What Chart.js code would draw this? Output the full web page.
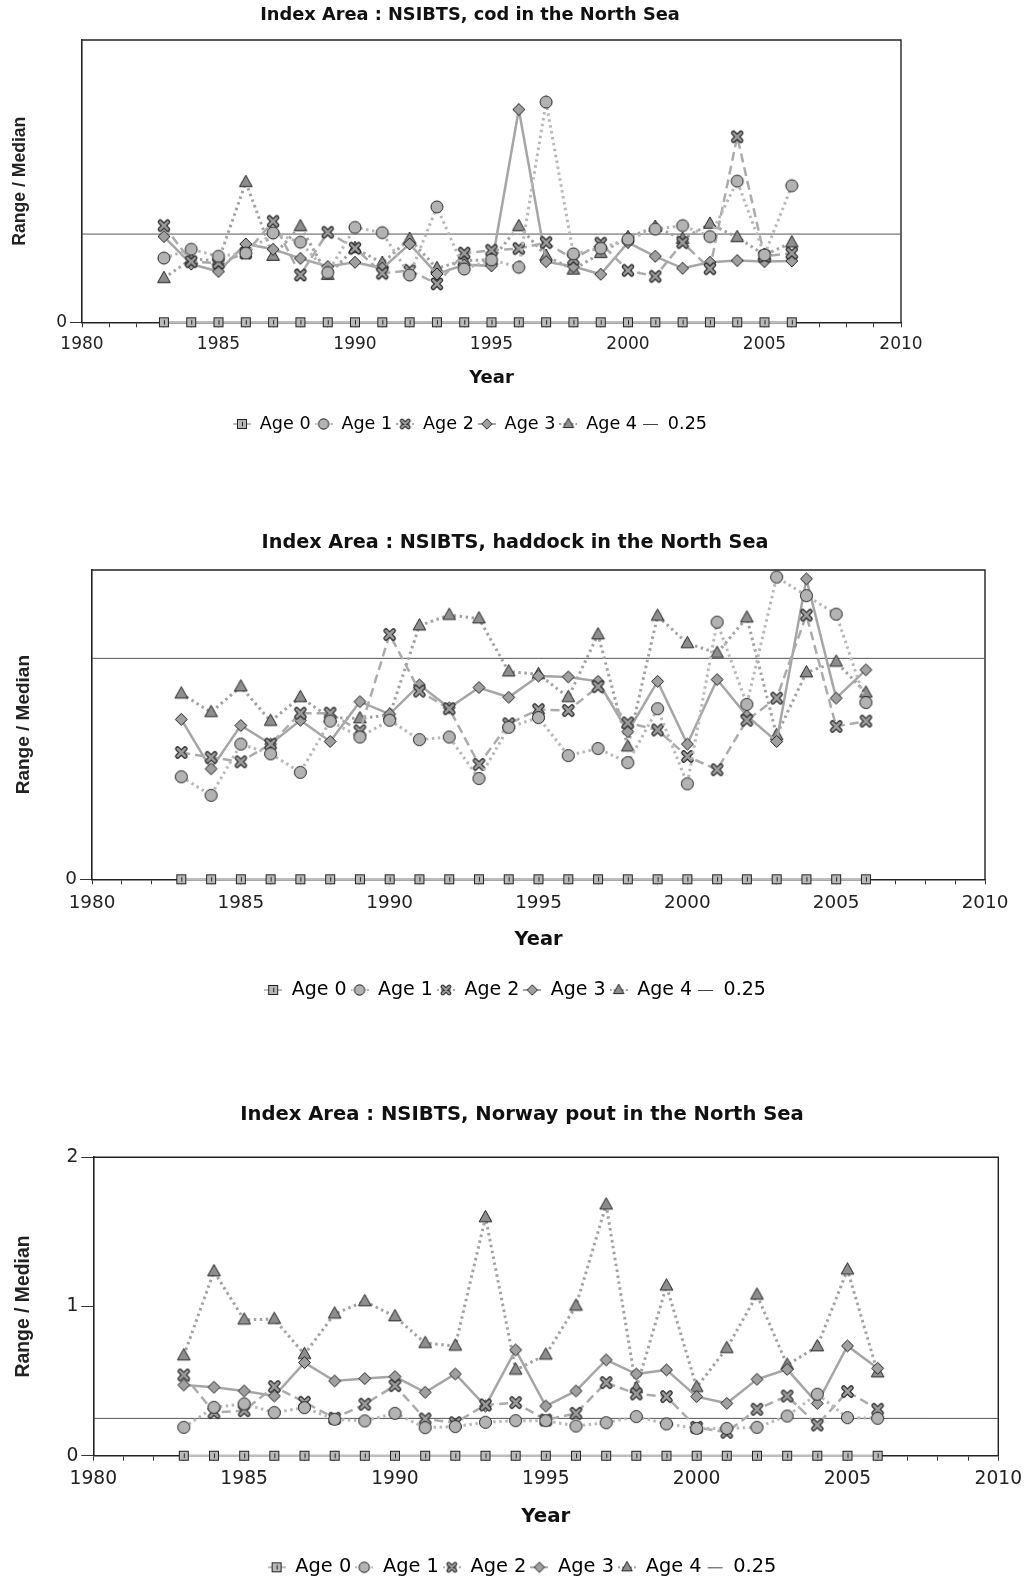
<!DOCTYPE html>
<html><head><meta charset="utf-8">
<script src="https://cdn.jsdelivr.net/npm/chart.js@4.4.1/dist/chart.umd.min.js"></script>
<style>
html,body{margin:0;padding:0;background:#fff;overflow:hidden;width:1031px;height:1581px;position:relative}
canvas{position:absolute;left:0}
</style></head><body>
<canvas id="c1"></canvas><canvas id="c2"></canvas><canvas id="c3"></canvas>
<script>
// ---------- data ----------
const years = [1983,1984,1985,1986,1987,1988,1989,1990,1991,1992,1993,1994,1995,1996,1997,1998,1999,2000,2001,2002,2003,2004,2005,2006];
const seriesNames = ['Age 0','Age 1','Age 2','Age 3','Age 4'];
const thresholdLabel = '0.25';
const threshold = 0.25;
const xMin = 1980, xMax = 2010;
const xTickLabels = ['1980','1985','1990','1995','2000','2005','2010'];

const codTitle = 'Index Area : NSIBTS, cod in the North Sea';
const codAge0 = [0,0,0,0,0,0,0,0,0,0,0,0,0,0,0,0,0,0,0,0,0,0,0,0];
const codAge1 = [0.182,0.207,0.187,0.196,0.253,0.227,0.141,0.269,0.254,0.134,0.327,0.151,0.177,0.156,0.624,0.194,0.210,0.235,0.264,0.274,0.243,0.400,0.191,0.387];
const codAge2 = [0.274,0.172,0.168,0.196,0.286,0.134,0.255,0.210,0.139,0.147,0.109,0.196,0.204,0.209,0.226,0.179,0.224,0.147,0.130,0.226,0.152,0.526,0.187,0.196];
const codAge3 = [0.243,0.165,0.144,0.222,0.207,0.181,0.158,0.170,0.153,0.222,0.137,0.163,0.160,0.603,0.172,0.158,0.136,0.226,0.187,0.153,0.170,0.175,0.172,0.174];
const codAge4 = [0.125,0.179,0.175,0.397,0.188,0.272,0.134,0.210,0.168,0.236,0.153,0.175,0.177,0.272,0.188,0.149,0.196,0.241,0.270,0.236,0.279,0.241,0.191,0.226];
const codYMax = 0.8;
const codYTicks = ['0'];

const hadTitle = 'Index Area : NSIBTS, haddock in the North Sea';
const hadAge0 = [0,0,0,0,0,0,0,0,0,0,0,0,0,0,0,0,0,0,0,0,0,0,0,0];
const hadAge1 = [0.116,0.095,0.153,0.142,0.121,0.179,0.161,0.180,0.158,0.161,0.114,0.172,0.183,0.140,0.148,0.132,0.193,0.108,0.291,0.198,0.342,0.321,0.300,0.200];
const hadAge2 = [0.1435,0.138,0.133,0.153,0.188,0.188,0.168,0.277,0.213,0.193,0.130,0.176,0.192,0.191,0.218,0.177,0.169,0.139,0.124,0.180,0.205,0.299,0.173,0.179];
const hadAge3 = [0.181,0.125,0.174,0.153,0.180,0.156,0.201,0.187,0.220,0.194,0.217,0.206,0.230,0.229,0.224,0.167,0.224,0.153,0.226,0.185,0.156,0.340,0.205,0.237];
const hadAge4 = [0.210,0.189,0.218,0.179,0.206,0.183,0.182,0.186,0.287,0.299,0.295,0.235,0.232,0.206,0.277,0.150,0.298,0.267,0.256,0.296,0.163,0.234,0.246,0.211];
const hadYMax = 0.35;
const hadYTicks = ['0'];

const npTitle = 'Index Area : NSIBTS, Norway pout in the North Sea';
const npAge0 = [0,0,0,0,0,0,0,0,0,0,0,0,0,0,0,0,0,0,0,0,0,0,0,0];
const npAge1 = [0.190,0.324,0.347,0.289,0.322,0.244,0.233,0.284,0.188,0.195,0.224,0.235,0.235,0.199,0.221,0.262,0.213,0.183,0.183,0.190,0.266,0.412,0.255,0.251];
const npAge2 = [0.541,0.289,0.302,0.463,0.358,0.251,0.345,0.470,0.246,0.221,0.340,0.356,0.239,0.284,0.490,0.414,0.396,0.190,0.157,0.311,0.400,0.206,0.430,0.311];
const npAge3 = [0.474,0.459,0.434,0.400,0.624,0.501,0.517,0.530,0.425,0.548,0.333,0.709,0.333,0.434,0.642,0.548,0.575,0.396,0.351,0.512,0.579,0.351,0.736,0.586];
const npAge4 = [0.671,1.235,0.911,0.915,0.680,0.951,1.034,0.933,0.754,0.736,1.597,0.575,0.676,1.004,1.682,0.452,1.139,0.459,0.720,1.078,0.608,0.732,1.246,0.557];
const npYMax = 2;
const npYTicks = ['0','1','2'];

const yAxisTitle = 'Range / Median';
const xAxisTitle = 'Year';

// ---------- styling ----------
Chart.defaults.font.family = "'DejaVu Sans', Verdana, sans-serif";
Chart.defaults.color = '#222';

const seriesStyle = [
  {kind:'square',   fill:'#b9b9b9', line:'#bdbdbd', dash:[],        width:2.5},
  {kind:'circle',   fill:'#b3b3b3', line:'#b8b8b8', dash:[2.5,3.5], width:3},
  {kind:'x',        fill:'#9c9c9c', line:'#ababab', dash:[9,5],     width:2.5},
  {kind:'diamond',  fill:'#a0a0a0', line:'#a6a6a6', dash:[],        width:2.5},
  {kind:'triangle', fill:'#8e8e8e', line:'#a2a2a2', dash:[2.5,3.5], width:3}
];

function drawMarker(g, kind, cx, cy, r, fill) {
  g.save();
  g.fillStyle = fill; g.strokeStyle = '#222'; g.lineWidth = 1;
  if (kind === 'square') {
    const a = Math.round(r);
    g.fillRect(cx - a, cy - a, 2*a, 2*a);
    g.strokeRect(cx - a + 0.5, cy - a + 0.5, 2*a - 1, 2*a - 1);
    g.beginPath(); g.moveTo(Math.floor(cx) + 0.5, cy - a*0.45); g.lineTo(Math.floor(cx) + 0.5, cy + a*0.45); g.stroke();
  } else if (kind === 'circle') {
    g.beginPath(); g.arc(cx, cy, r, 0, Math.PI*2); g.fill(); g.stroke();
  } else if (kind === 'diamond') {
    g.beginPath(); g.moveTo(cx, cy - r); g.lineTo(cx + r, cy); g.lineTo(cx, cy + r); g.lineTo(cx - r, cy); g.closePath(); g.fill(); g.stroke();
  } else if (kind === 'triangle') {
    g.beginPath(); g.moveTo(cx, cy - r); g.lineTo(cx + r*0.9, cy + r*0.62); g.lineTo(cx - r*0.9, cy + r*0.62); g.closePath(); g.fill(); g.stroke();
  } else if (kind === 'x') {
    const d = r*0.62;
    g.lineCap = 'round';
    g.strokeStyle = '#2a2a2a'; g.lineWidth = r*0.85;
    g.beginPath(); g.moveTo(cx-d, cy-d); g.lineTo(cx+d, cy+d); g.moveTo(cx+d, cy-d); g.lineTo(cx-d, cy+d); g.stroke();
    g.strokeStyle = fill; g.lineWidth = r*0.42;
    g.beginPath(); g.moveTo(cx-d, cy-d); g.lineTo(cx+d, cy+d); g.moveTo(cx+d, cy-d); g.lineTo(cx-d, cy+d); g.stroke();
  }
  g.restore();
}
function markerImg(st, r) {
  const size = Math.ceil(2*r + 4);
  const c = document.createElement('canvas'); c.width = size; c.height = size;
  drawMarker(c.getContext('2d'), st.kind, size/2, size/2, r, st.fill);
  return c;
}
const ICON_W = 18;
const LEGEND_PAD = 4;
function legendIcon(st, r) {
  const c = document.createElement('canvas'); c.width = ICON_W; c.height = 16;
  const g = c.getContext('2d');
  if (st) {
    g.strokeStyle = st.line; g.lineWidth = 2; g.setLineDash(st.dash.length ? [2,2] : []);
    g.beginPath(); g.moveTo(0, 8); g.lineTo(ICON_W, 8); g.stroke(); g.setLineDash([]);
    drawMarker(g, st.kind, ICON_W/2, 8, r, st.fill);
  } else {
    g.strokeStyle = '#444'; g.lineWidth = 1;
    g.beginPath(); g.moveTo(2, 8.5); g.lineTo(ICON_W - 1, 8.5); g.stroke();
  }
  return c;
}

const framePlugin = {
  id: 'frame',
  beforeDatasetsDraw(chart) {
    const a = chart.chartArea, ctx = chart.ctx;
    ctx.save(); ctx.strokeStyle = '#222'; ctx.lineWidth = 1.4;
    ctx.beginPath(); ctx.moveTo(a.left, a.top); ctx.lineTo(a.right, a.top); ctx.lineTo(a.right, a.bottom); ctx.stroke();
    ctx.restore();
  }
};

function makeChart(id, L, title, series, yMax, yTicks) {
  const s = L.s;
  const fsT = 17.8*s, lhT = fsT*1.2;
  const padTitleTop = L.titleY - L.top - lhT/2;
  const padTitleBottom = L.plotTop - L.top - lhT - padTitleTop;
  const fsL = 17.6*s;
  const xBottom = L.legendY - LEGEND_PAD - fsL/2;
  const xH = xBottom - L.plotBottom;
  const fsTick = 17*s, lhTick = fsTick*1.2;
  const xTickLen = 5;
  const xTickPad = L.tickY - L.plotBottom - xTickLen - lhTick/2;
  const fsX = 18*s, lhX = fsX*1.2;
  const xTitlePadBottom = xBottom - lhX/2 - L.xTitleY;
  const need = xBottom + fsL + LEGEND_PAD + 10 - L.top;
  const H = Math.ceil(need);
  const fsY = 17.6*s, lhY = fsY*1.2;
  const yTitlePad = L.yTitleX - lhY/2;

  const cv = document.getElementById(id);
  cv.width = L.width; cv.height = H;
  cv.style.top = L.top + 'px'; cv.style.width = L.width + 'px'; cv.style.height = H + 'px';

  const datasets = series.map((vals, i) => {
    const st = seriesStyle[i];
    const r = (st.kind === 'square' ? 4.6 : st.kind === 'x' ? 6 : st.kind === 'triangle' ? 7 : 6) * (0.95 + 0.05*s);
    const lr = st.kind === 'square' ? 4.5 : st.kind === 'triangle' ? 5.8 : 5.2;
    return {
      label: seriesNames[i],
      data: years.map((y, k) => ({x: y, y: vals[k]})),
      borderColor: st.line, borderWidth: st.width, borderDash: st.dash,
      pointStyle: markerImg(st, r), pointRadius: 6,
      legendIcon: legendIcon(st, lr),
      xAxisID: 'x', yAxisID: 'y', clip: false, tension: 0
    };
  });
  datasets.push({
    label: thresholdLabel,
    data: [{x: xMin, y: threshold}, {x: xMax, y: threshold}],
    borderColor: '#555', borderWidth: 1, pointRadius: 0,
    legendIcon: legendIcon(null),
    xAxisID: 'x', yAxisID: 'y', order: 10
  });

  return new Chart(cv, {
    type: 'line',
    data: {datasets},
    plugins: [framePlugin],
    options: {
      responsive: false, animation: false, events: [],
      layout: {padding: {left: 0, right: 0, top: 0, bottom: H - need}},
      plugins: {
        tooltip: {enabled: false},
        title: {display: true, text: title, color: '#111',
                font: {size: fsT, weight: 'bold', lineHeight: 1.2},
                padding: {top: padTitleTop, bottom: padTitleBottom}},
        legend: {display: true, position: 'bottom',
          labels: {usePointStyle: true, pointStyleWidth: ICON_W, padding: LEGEND_PAD, color: '#222',
                   font: {size: fsL},
                   generateLabels(chart) {
                     return chart.data.datasets.map((d, i) => ({
                       text: d.label, pointStyle: d.legendIcon, datasetIndex: i,
                       hidden: false, lineWidth: 0, fillStyle: '#fff', strokeStyle: '#fff'
                     }));
                   }}}
      },
      scales: {
        x: {type: 'linear', position: 'bottom', min: xMin, max: xMax,
            afterFit(sc) { sc.height = xH; },
            ticks: {stepSize: 1, autoSkip: false, maxRotation: 0, padding: xTickPad,
                    font: {size: fsTick, lineHeight: 1.2}, color: '#222',
                    callback: v => xTickLabels.includes(String(v)) ? String(v) : ''},
            grid: {display: true, drawOnChartArea: false, tickLength: xTickLen, color: '#333'},
            border: {display: true, color: '#222', width: 1.4},
            title: {display: true, text: xAxisTitle, color: '#111',
                    font: {size: fsX, weight: 'bold', lineHeight: 1.2},
                    padding: {top: 0, bottom: xTitlePadBottom}}},
        y: {type: 'linear', position: 'left', min: 0, max: yMax,
            afterFit(sc) { sc.width = L.plotLeft; },
            afterBuildTicks(sc) { sc.ticks = yTicks.map(t => ({value: Number(t)})); },
            ticks: {padding: 3, font: {size: fsTick, lineHeight: 1.2}, color: '#222',
                    callback: v => yTicks.includes(String(v)) ? String(v) : ''},
            grid: {display: true, drawOnChartArea: false, tickLength: 12, color: '#333'},
            border: {display: true, color: '#222', width: 1.6},
            title: {display: true, text: yAxisTitle, color: '#222',
                    font: {family: "'Liberation Sans', Arial, sans-serif", size: fsY, weight: 'bold', lineHeight: 1.2},
                    padding: {top: yTitlePad, bottom: 0}}},
        yR: {type: 'linear', position: 'right', display: true,
             afterFit(sc) { sc.width = L.width - L.plotRight; },
             ticks: {display: false}, grid: {display: false}, border: {display: false}}
      }
    }
  });
}

const L1 = {top:0,    width:940,  plotTop:40,     plotBottom:322.3,  plotLeft:82,   plotRight:901,   titleY:15.5, tickY:345,    xTitleY:378.5,  legendY:424,    yTitleX:20, s:1};
const L2 = {top:500,  width:1030, plotTop:570,    plotBottom:879.3,  plotLeft:92,   plotRight:985,   titleY:543,  tickY:903.5,  xTitleY:940,    legendY:990,    yTitleX:24, s:1.08};
const L3 = {top:1080, width:1044, plotTop:1157.3, plotBottom:1455.7, plotLeft:93.3, plotRight:998.3, titleY:1115, tickY:1479.5, xTitleY:1516.5, legendY:1567.3, yTitleX:24, s:1.1};

makeChart('c1', L1, codTitle, [codAge0, codAge1, codAge2, codAge3, codAge4], codYMax, codYTicks);
makeChart('c2', L2, hadTitle, [hadAge0, hadAge1, hadAge2, hadAge3, hadAge4], hadYMax, hadYTicks);
makeChart('c3', L3, npTitle,  [npAge0,  npAge1,  npAge2,  npAge3,  npAge4],  npYMax,  npYTicks);
</script>
</body></html>
